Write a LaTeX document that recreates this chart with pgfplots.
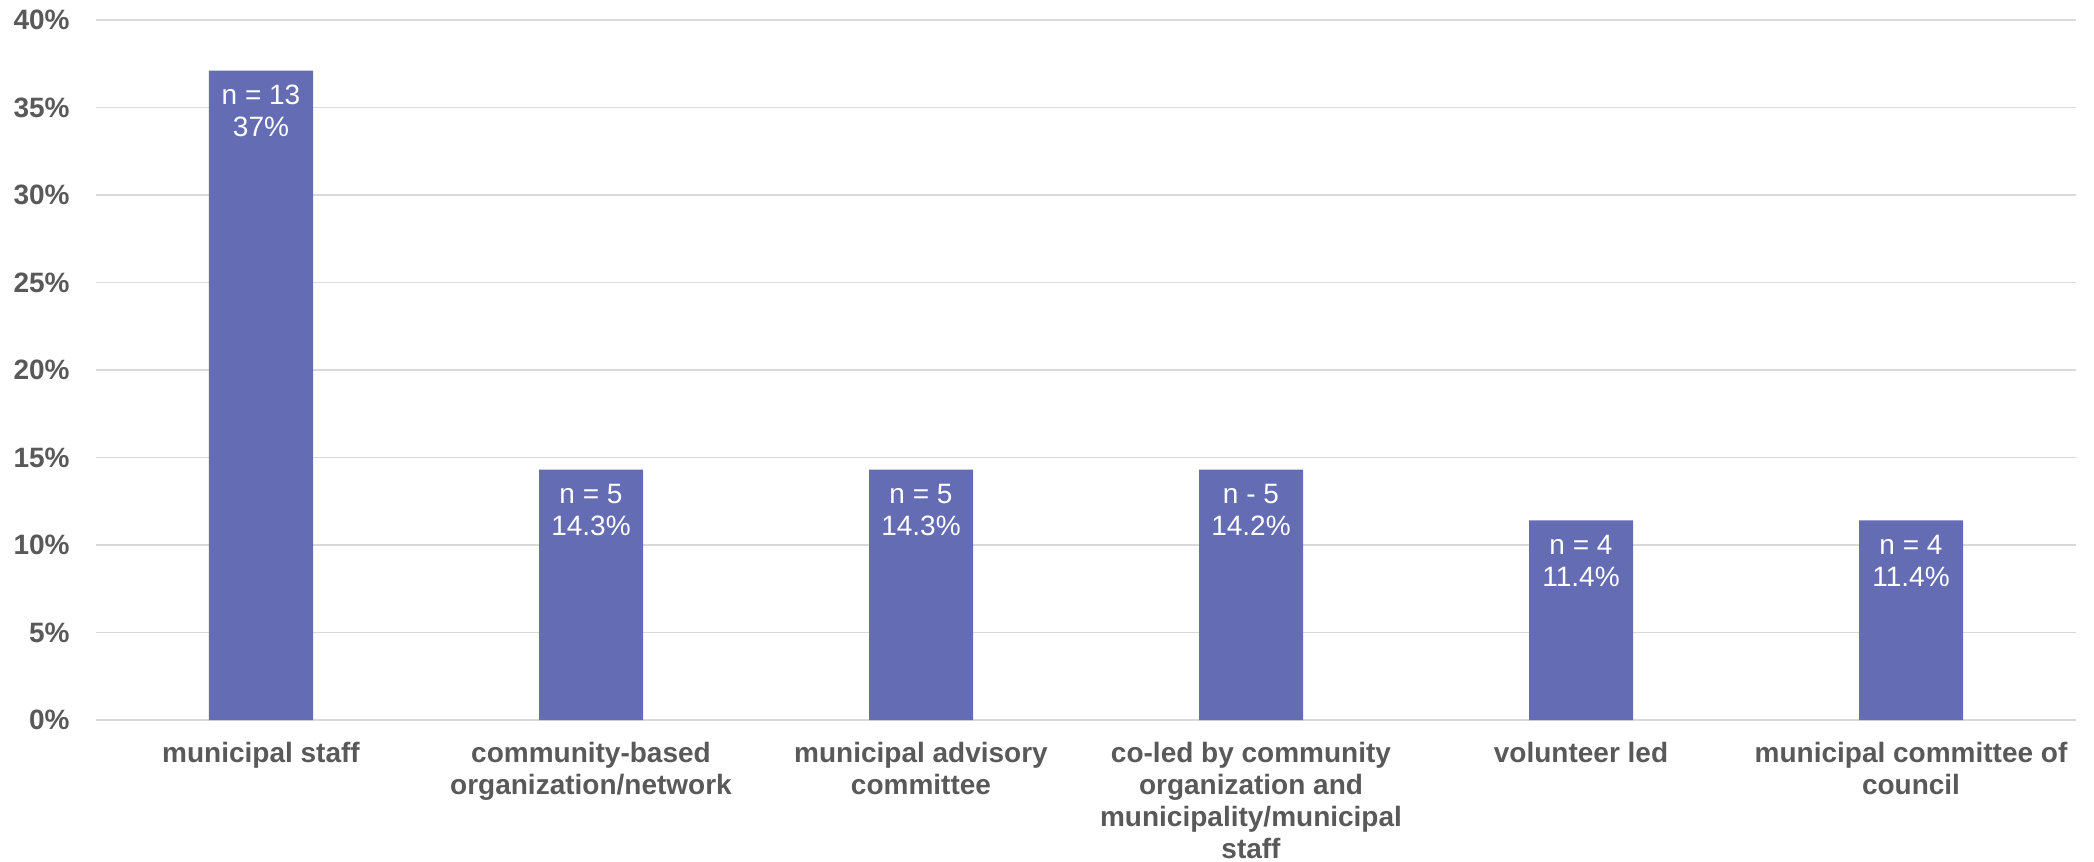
\documentclass[border=0pt]{standalone}
\usepackage{pgfplots}
\usepackage{pgfplotstable}
\pgfplotsset{compat=1.18}
\usepackage{fontspec}
\setmainfont{Liberation Sans}

\definecolor{barblue}{HTML}{646DB3}
\definecolor{gridgray}{HTML}{D9D9D9}
\definecolor{labgray}{HTML}{595959}

\pgfplotstableread[col sep=comma]{
x,y,lab
0,37.1,{n = 13\\37\%}
1,14.3,{n = 5\\14.3\%}
2,14.3,{n = 5\\14.3\%}
3,14.3,{n - 5\\14.2\%}
4,11.4,{n = 4\\11.4\%}
5,11.4,{n = 4\\11.4\%}
}\shares

\begin{document}
\begin{tikzpicture}
\useasboundingbox (-48pt,-71pt) rectangle (999pt,360pt);
\begin{axis}[
  scale only axis,
  width=990pt, height=350pt,
  ybar, bar width=52pt, bar shift=0pt,
  xmin=-0.5, xmax=5.5,
  ymin=0, ymax=40,
  xtick=data,
  xticklabels={municipal staff,
    community-based\\organization/network,
    municipal advisory\\committee,
    co-led by community\\organization and\\municipality/municipal\\staff,
    volunteer led,
    municipal committee of\\council},
  ytick={0,5,...,40},
  yticklabels={0\%,5\%,10\%,15\%,20\%,25\%,30\%,35\%,40\%},
  major tick length=0pt,
  axis line style={draw=none},
  ymajorgrids,
  grid style={gridgray, line width=0.75pt},
  yticklabel style={font=\bfseries\fontsize{14}{16}\selectfont, text=labgray,
    inner sep=0pt, anchor=east, xshift=-13pt},
  xticklabel style={font=\bfseries\fontsize{14}{16}\selectfont, text=labgray,
    align=center, inner sep=0pt, anchor=north, yshift=-11pt},
  point meta=explicit symbolic,
  nodes near coords,
  every node near coord/.append style={anchor=north, align=center,
    text=white, font=\fontsize{14}{16}\selectfont, inner sep=0pt, yshift=-7pt},
]
\addplot[fill=barblue, draw=none] table[x=x, y=y, meta=lab] {\shares};
\end{axis}
\end{tikzpicture}
\end{document}
